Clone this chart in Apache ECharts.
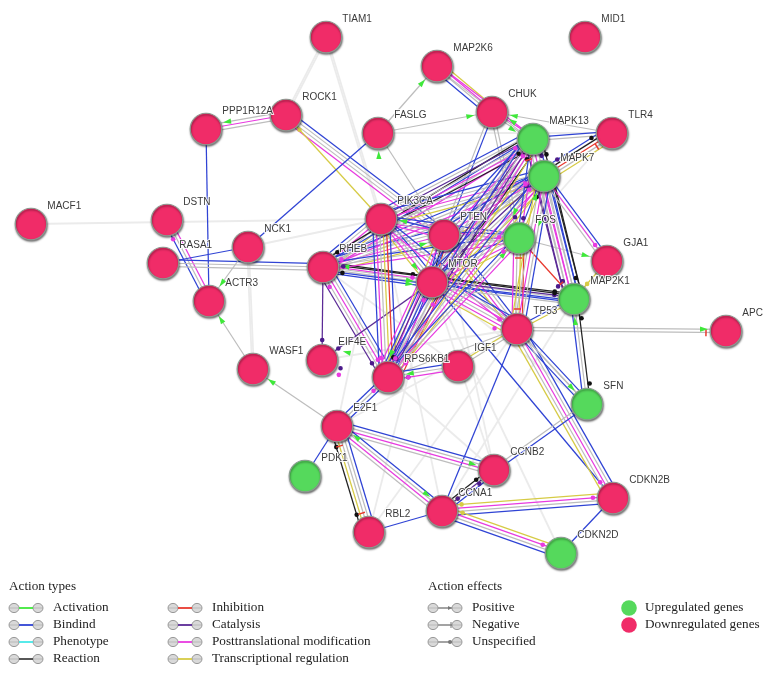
<!DOCTYPE html>
<html><head><meta charset="utf-8">
<style>html,body{margin:0;padding:0;background:#fff}#c{width:772px;height:674px}</style>
<script src="https://cdn.jsdelivr.net/npm/echarts@6/dist/echarts.min.js"></script>
</head><body><div id="c"></div>
<script>
// ---------- data ----------
var geneNames = ["TIAM1","MID1","MAP2K6","CHUK","FASLG","ROCK1","PPP1R12A","TLR4","MAPK13","MAPK7","MACF1","DSTN","RASA1","NCK1","PIK3CA","PTEN","FOS","GJA1","RHEB","MTOR","MAP2K1","ACTR3","TP53","APC","EIF4E","WASF1","RPS6KB1","IGF1","SFN","E2F1","CCNB2","PDK1","CCNA1","CDKN2B","RBL2","CDKN2D"];
var geneX = [326,585,437,492,378,286,206,612,533,544,31,167,163,248,381,444,519,607,323,432,574,209,517,726,322,253,388,458,587,337,494,305,442,613,369,561];
var geneY = [37,37,66,112,133,115,129,133,139,176,224,220,263,247,219,235,238,261,267,282,299,301,329,331,360,369,377,366,404,426,470,476,511,498,532,553];
var upregulated = ["MAPK13","MAPK7","FOS","MAP2K1","SFN","PDK1","CDKN2D"];
// [from, to, line types]: L faint, g gray, b binding, m posttranslational, y transcriptional, r inhibition, p catalysis, k reaction
var faintEdges = [
 ["TIAM1","ROCK1","LL"],["TIAM1","PIK3CA","LL"],["MACF1","PIK3CA","L"],["NCK1","WASF1","LL"],["NCK1","PIK3CA","L"],
 ["FASLG","TLR4","L"],["TLR4","FOS","L"],["GJA1","MAPK7","L"],["RHEB","IGF1","L"],["MTOR","CCNB2","L"],["PTEN","CCNB2","L"],
 ["RBL2","TP53","L"],["RPS6KB1","CCNB2","L"],["PIK3CA","CCNA1","L"],["MTOR","CDKN2D","L"],["E2F1","TP53","L"],
 ["PIK3CA","E2F1","L"],["EIF4E","TP53","L"],["RBL2","MTOR","L"],["SFN","MTOR","L"],["MAP2K1","CCNA1","L"],["EIF4E","MTOR","L"]
];
var bundleEdges = [
 ["FASLG","MAP2K6","g"],["MAP2K6","CHUK","ymgb"],["FASLG","CHUK","g"],["CHUK","MAPK13","mg"],["TLR4","CHUK","g"],
 ["MAP2K6","MAPK13","mg"],["MAPK13","TLR4","bg"],["MAPK7","TLR4","bkrgy"],["ROCK1","PPP1R12A","gmg"],["PPP1R12A","ACTR3","b"],
 ["ROCK1","PTEN","bggm"],["ROCK1","PIK3CA","y"],["DSTN","ACTR3","mgb"],["RASA1","NCK1","b"],["RASA1","RHEB","bgg"],
 ["NCK1","ACTR3","g"],["NCK1","FASLG","b"],["WASF1","ACTR3","g"],["E2F1","WASF1","g"],["FASLG","PTEN","g"],
 ["CHUK","PTEN","bg"],["CHUK","FOS","gg"],
 ["RHEB","PIK3CA","bgmgy"],["RHEB","PTEN","bgmgy"],["RHEB","MTOR","kmgb"],["RHEB","MAP2K1","kgb"],
 ["RHEB","MAPK13","kbgm"],["RHEB","MAPK7","bgmg"],["RHEB","RPS6KB1","bgmgp"],["RHEB","EIF4E","p"],["MTOR","EIF4E","p"],
 ["RHEB","FOS","bgm"],
 ["PIK3CA","MAPK13","bgpgmk"],["PIK3CA","MAPK7","bgmgy"],["PIK3CA","FOS","bgm"],["PIK3CA","PTEN","bgm"],["PIK3CA","MTOR","bgmy"],
 ["PIK3CA","RPS6KB1","brygmb"],["PIK3CA","TP53","bgm"],
 ["PTEN","MAPK13","bgmg"],["PTEN","MAPK7","bgmgy"],["PTEN","FOS","bgg"],["PTEN","MTOR","rkb"],["PTEN","RPS6KB1","bgmy"],["PTEN","TP53","bgmy"],
 ["MTOR","MAPK13","bgpmgk"],["MTOR","MAPK7","bgpgmy"],["MTOR","FOS","bgmy"],["MTOR","MAP2K1","kpbg"],["MTOR","TP53","bgmgmy"],
 ["MTOR","RPS6KB1","rygmbpbm"],["MTOR","CDKN2B","b"],
 ["RPS6KB1","MAPK13","bgpmy"],["RPS6KB1","MAPK7","bgmy"],["RPS6KB1","FOS","bgm"],["RPS6KB1","TP53","g"],
 ["FOS","MAPK7","by"],["FOS","MAPK13","bm"],["FOS","TP53","rygm"],["FOS","MAP2K1","r"],["FOS","GJA1","g"],
 ["MAPK7","MAP2K1","kbgmgp"],["MAPK13","MAP2K1","kbgmgp"],["MAPK7","GJA1","bmg"],["MAPK7","TP53","bgmgy"],["GJA1","MAP2K1","y"],
 ["TP53","MAP2K1","by"],["TP53","APC","gg"],["TP53","SFN","bgb"],["MAP2K1","SFN","kgb"],["TP53","CDKN2B","bgmgy"],["TP53","CCNA1","b"],
 ["TP53","IGF1","gy"],["IGF1","RPS6KB1","mgb"],["E2F1","RPS6KB1","bgb"],["E2F1","CCNB2","bgmg"],["E2F1","CCNA1","bgmg"],
 ["E2F1","RBL2","bggyk"],["E2F1","PDK1","b"],["RBL2","CCNA1","b"],["CCNA1","CCNB2","kpb"],["CCNA1","CDKN2B","ymgb"],["CCNA1","CDKN2D","ymgb"],
 ["CDKN2D","CDKN2B","b"],["CCNB2","SFN","gb"],["SFN","TP53","g"]
];
// [from, to, end mark, side offset in lanes]: near `to`. a arrow, t tee, d* dot
var endMarks = [
 ["FASLG","MAP2K6","a",0],["FASLG","CHUK","a",0],["MAPK13","CHUK","a",1],["CHUK","MAPK13","a",1],["TLR4","CHUK","a",0],
 ["ROCK1","PPP1R12A","a",1],["PIK3CA","ROCK1","dy",0],["ACTR3","DSTN","dm",-1],
 ["WASF1","ACTR3","a",0],["E2F1","WASF1","a",0],["PIK3CA","FASLG","a",0],["NCK1","ACTR3","a",0],
 ["PTEN","PIK3CA","a",1],["RHEB","PTEN","a",1],["PIK3CA","MTOR","a",1],["RHEB","MTOR","dk",-1.5],["MTOR","RHEB","a",1],
 ["RHEB","MTOR","a",0.5],["RHEB","MTOR","dm",-0.5],
 ["MTOR","MAP2K1","dk",-1.5],["MTOR","MAP2K1","dp",-0.5],["RHEB","MAP2K1","dk",-1],["MAP2K1","RHEB","dk",-1],
 ["MAPK13","RHEB","dk",1.5],["RHEB","MAPK13","dk",1.5],["PIK3CA","MAPK13","dm",0],["MTOR","MAPK13","dk",2],["MTOR","MAPK13","dm",0.5],
 ["MAPK7","RHEB","dm",0],["MTOR","RHEB","dp",1],["RHEB","MTOR","a",1.5],
 ["EIF4E","RHEB","dm",2],["RHEB","EIF4E","dp",0],["MTOR","EIF4E","dp",0],["RHEB","RPS6KB1","dp",2],["RHEB","RPS6KB1","dm",0],
 ["RHEB","RPS6KB1","dm",-1],["MTOR","RPS6KB1","dm",-3],["MTOR","RPS6KB1","dp",0],["MTOR","RPS6KB1","dk",1],["MTOR","RPS6KB1","a",2],
 ["PTEN","RPS6KB1","dm",0],["IGF1","RPS6KB1","dp",-1],["IGF1","RPS6KB1","a",0],["IGF1","RPS6KB1","dm",-1],
 ["RPS6KB1","EIF4E","a",4],["RPS6KB1","EIF4E","dm",-3],["RPS6KB1","EIF4E","dp",-1],
 ["E2F1","RPS6KB1","dm",0],["RPS6KB1","MTOR","dm",0],["RPS6KB1","MTOR","dm",3],
 ["PTEN","MAPK7","dp",0],["MTOR","MAPK7","dm",0],["MTOR","MAPK7","dk",3],["PIK3CA","MAPK7","dm",1],["RHEB","MAPK7","dm",0],
 ["MAPK13","MAPK7","dp",-1],["MAPK13","MAPK7","dk",-2.5],["MAPK13","MAPK7","t",3],
 ["FOS","MAPK7","a",0],["MAPK7","FOS","a",4],["MAPK7","FOS","a",-4],["MAPK7","FOS","dp",1],["MAPK13","FOS","dp",2],
 ["PTEN","FOS","dm",0],["TP53","FOS","t",0],["RPS6KB1","FOS","a",0],["MTOR","FOS","dm",1.5],
 ["MTOR","TP53","dm",0],["MTOR","TP53","dm",3],["FOS","TP53","t",0],
 ["MAPK7","GJA1","dm",0],["FOS","GJA1","a",0],["TLR4","MAPK7","dp",2],["MAPK7","TLR4","dk",-2],["MAPK7","TLR4","t",1],
 ["MAPK7","MAP2K1","dk",-2],["MAPK7","MAP2K1","dp",2],["MAPK13","MAP2K1","dp",2],["FOS","MAP2K1","t",0],["FOS","MAP2K1","dp",1],["GJA1","MAP2K1","dy",0],
 ["SFN","MAP2K1","a",-0.5],["SFN","MAP2K1","dk",1.5],["MAP2K1","SFN","dk",-1.5],["TP53","SFN","a",0],
 ["TP53","APC","t",0.6],["TP53","APC","a",-0.5],["TP53","CDKN2B","dm",1],["CCNB2","CCNA1","dy",0],["CCNA1","CCNB2","dk",-1],["CCNA1","CCNB2","dp",0.5],["CCNB2","CCNA1","dp",0],
 ["E2F1","CCNB2","a",0],["E2F1","CCNA1","a",-1],["CCNA1","E2F1","a",1],
 ["E2F1","RBL2","dk",2],["E2F1","RBL2","t",0.5],["RBL2","E2F1","dk",-2],["RBL2","E2F1","t",-1],
 ["CCNA1","CDKN2B","dm",-0.5],["CDKN2B","CCNA1","dy",1.5],["CDKN2D","CCNA1","dy",1.5],["CCNA1","CDKN2D","dm",-0.5]
];
var actionTypesTitle = "Action types";
var actionTypes1 = ["Activation","Bindind","Phenotype","Reaction"];
var actionTypes2 = ["Inhibition","Catalysis","Posttranslational modification","Transcriptional regulation"];
var actionEffectsTitle = "Action effects";
var actionEffects = ["Positive","Negative","Unspecified"];
var regulationKeys = ["Upregulated genes","Downregulated genes"];

// ---------- styles ----------
var RED="#f02c68", GREEN="#55d95c";
var COL={L:"#ebebeb",g:"#bdbdbd",b:"#2f43d4",m:"#e83ae0",y:"#d6cb45",r:"#e8392f",p:"#5b2a96",k:"#222222",
         a:"#3fe83a",t:"#e8392f",dm:"#e83ae0",dk:"#111111",dp:"#4b1a8a",dy:"#d6cb45",c:"#45e8e8"};
var LANE=3.4;
function idx(n){return geneNames.indexOf(n);}
function xy(n){var i=idx(n);return [geneX[i],geneY[i]];}
var lineRows=[];
faintEdges.concat(bundleEdges).forEach(function(e){
  var A=xy(e[0]),B=xy(e[1]),n=e[2].length;
  for(var k=0;k<n;k++) lineRows.push([A[0],A[1],B[0],B[1],(k-(n-1)/2)*(e[2][k]==="L"?0.5:1),e[2][k]]);
});
var markRows=[];
endMarks.forEach(function(m){ if(m[2]&&m[0]!==m[1]){var A=xy(m[0]),B=xy(m[1]);markRows.push([A[0],A[1],B[0],B[1],m[3],m[2]]);}});

function lineItem(p,api){
  var a=api.coord([api.value(0),api.value(1)]),b=api.coord([api.value(2),api.value(3)]),t=lineRows[p.dataIndex][5];
  var dx=b[0]-a[0],dy=b[1]-a[1],l=Math.hypot(dx,dy),nx=-dy/l,ny=dx/l,o=api.value(4)*LANE;
  return {type:"line",shape:{x1:a[0]+nx*o,y1:a[1]+ny*o,x2:b[0]+nx*o,y2:b[1]+ny*o},
    style:{stroke:COL[t],lineWidth:t==="L"?1.8:(t==="g"?1.2:1.25),fill:null},silent:true};
}
function markItem(p,api){
  var a=api.coord([api.value(0),api.value(1)]),b=api.coord([api.value(2),api.value(3)]),t=markRows[p.dataIndex][5];
  var dx=b[0]-a[0],dy=b[1]-a[1],l=Math.hypot(dx,dy),ux=dx/l,uy=dy/l,nx=-uy,ny=ux,o=api.value(4)*LANE;
  var D=t==="a"?22:20;
  var cx=b[0]-ux*D+nx*o,cy=b[1]-uy*D+ny*o;
  if(t==="a"){
    return {type:"polygon",shape:{points:[[cx+ux*4,cy+uy*4],[cx-ux*4+nx*2.6,cy-uy*4+ny*2.6],[cx-ux*4-nx*2.6,cy-uy*4-ny*2.6]]},style:{fill:COL.a},silent:true};
  }
  if(t==="t"){
    return {type:"line",shape:{x1:cx+nx*3.5,y1:cy+ny*3.5,x2:cx-nx*3.5,y2:cy-ny*3.5},style:{stroke:COL.t,lineWidth:1.5},silent:true};
  }
  return {type:"circle",shape:{cx:cx,cy:cy,r:2.3},style:{fill:COL[t]},silent:true};
}
var nodeData=geneNames.map(function(n,i){
  var up=upregulated.indexOf(n)>=0;
  return {name:n,value:[geneX[i],geneY[i]],itemStyle:{color:up?GREEN:RED}};
});

// ---------- legend ----------
var SERIF="'Liberation Serif',serif";
var g=[];
function txt(x,y,s){g.push({type:"text",x:x,y:y,silent:true,style:{text:s,fill:"#222",font:"13.2px "+SERIF,textVerticalAlign:"middle"}});}
function ball(x,y){g.push({type:"ellipse",silent:true,shape:{cx:x,cy:y,rx:5,ry:4.6},style:{fill:"#d9d9d9",stroke:"#8f8f8f",lineWidth:0.9}});
  g.push({type:"line",silent:true,shape:{x1:x-4.5,y1:y,x2:x+4.5,y2:y},style:{stroke:"#a5a5a5",lineWidth:0.6}});}
function key(x,y,c){ball(x,y);ball(x+24,y);g.push({type:"line",silent:true,shape:{x1:x+5,y1:y,x2:x+19,y2:y},style:{stroke:c,lineWidth:1.8}});}
var rowY=[608,625,642,659];
txt(9,587,actionTypesTitle);txt(428,587,actionEffectsTitle);
var c1=[COL.a,COL.b,COL.c,"#444"],c2=[COL.r,COL.p,COL.m,COL.y];
actionTypes1.forEach(function(s,i){key(14,rowY[i],c1[i]);txt(53,rowY[i],s);});
actionTypes2.forEach(function(s,i){key(173,rowY[i],c2[i]);txt(212,rowY[i],s);});
actionEffects.forEach(function(s,i){
  var y=rowY[i],x=433;key(x,y,"#999");txt(472,y,s);
  if(i===0)g.push({type:"polygon",silent:true,shape:{points:[[x+19,y],[x+15,y-2],[x+15,y+2]]},style:{fill:"#777"}});
  if(i===1)g.push({type:"line",silent:true,shape:{x1:x+18,y1:y-3,x2:x+18,y2:y+3},style:{stroke:"#777",lineWidth:1}});
  if(i===2)g.push({type:"circle",silent:true,shape:{cx:x+17,cy:y,r:2},style:{fill:"#777"}});
});
regulationKeys.forEach(function(s,i){
  g.push({type:"circle",silent:true,shape:{cx:629,cy:rowY[i],r:7.8},style:{fill:i?RED:GREEN}});
  txt(645,rowY[i],s);
});

var chart=echarts.init(document.getElementById("c"),null,{renderer:"canvas"});
chart.setOption({
  animation:false,backgroundColor:"#fff",
  grid:{left:0,right:0,top:0,bottom:0},
  xAxis:{type:"value",min:0,max:772,show:false},
  yAxis:{type:"value",min:0,max:674,inverse:true,show:false},
  graphic:g,
  series:[
    {type:"custom",z:1,coordinateSystem:"cartesian2d",renderItem:lineItem,data:lineRows.map(function(r){return r.slice(0,5);}),encode:{x:[0,2],y:[1,3]},clip:false,silent:true},
    {type:"custom",z:2,coordinateSystem:"cartesian2d",renderItem:markItem,data:markRows.map(function(r){return r.slice(0,5);}),encode:{x:[0,2],y:[1,3]},clip:false,silent:true},
    {type:"scatter",z:3,symbol:"circle",symbolSize:31.5,data:nodeData,silent:true,
     itemStyle:{borderColor:"#8b9a90",borderWidth:1.2,shadowColor:"rgba(0,0,0,0.5)",shadowBlur:2,shadowOffsetX:0.5,shadowOffsetY:1.5,opacity:1},
     label:{show:true,position:"right",distance:0,offset:[0,-17.5],formatter:"{b}",color:"#3a3a3a",fontFamily:"'Liberation Sans',Arial,sans-serif",fontSize:10,textBorderColor:"rgba(255,255,255,0.85)",textBorderWidth:2}}
  ]
});
</script></body></html>
